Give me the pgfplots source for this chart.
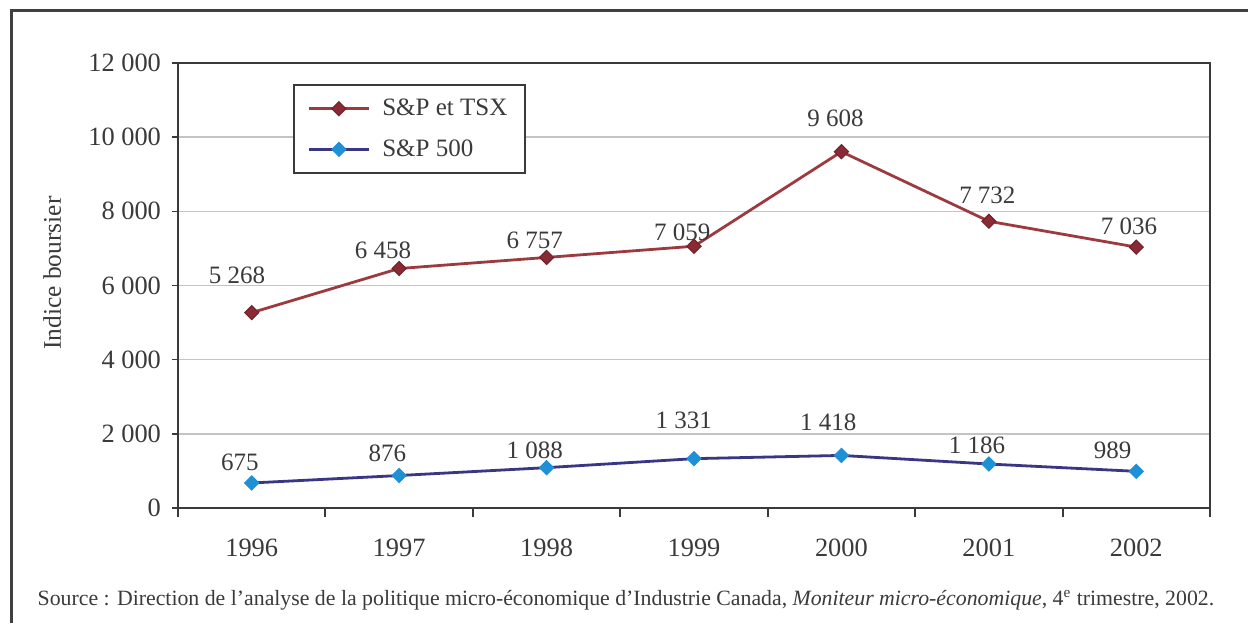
\documentclass[border=0pt]{standalone}
\usepackage{pgfplots}
\pgfplotsset{compat=1.18}
\usepackage{fontspec}
\setmainfont{Liberation Serif}
\definecolor{redl}{HTML}{9C3A40}
\definecolor{redm}{HTML}{8A2A35}
\definecolor{bluel}{HTML}{3A3585}
\definecolor{bluem}{HTML}{1E90D8}
\definecolor{txt}{HTML}{3A3A3A}
\definecolor{gridc}{HTML}{C4C4C4}
\begin{document}
\begin{tikzpicture}
\useasboundingbox (0,0) rectangle (624pt,311.5pt);
\draw[line width=1.5pt, draw=black!75] (5.5pt,0) -- (5.5pt,306pt) -- (624pt,306pt);
\begin{axis}[
  at={(89pt,57.5pt)}, anchor=south west,
  scale only axis, width=516pt, height=222.5pt,
  xmin=-0.5, xmax=6.5, ymin=0, ymax=12000,
  scaled y ticks=false,
  xtick={0,...,6}, xticklabels={1996,1997,1998,1999,2000,2001,2002},
  minor xtick={-0.5,0.5,...,6.5},
  ytick={0,2000,...,12000},
  yticklabels={0,2 000,4 000,6 000,8 000,10 000,12 000},
  xtick pos=bottom, ytick pos=left,
  tick align=outside,
  major tick length=3pt, minor tick length=4.5pt,
  x tick style={draw=none},
  minor x tick style={draw=txt, line width=1pt},
  y tick style={draw=txt, line width=0.8pt},
  ymajorgrids, grid style={draw=gridc, line width=0.8pt},
  axis line style={draw=txt, line width=1pt},
  tick label style={font=\fontsize{13.2}{15}\selectfont, text=txt},
  xticklabel style={yshift=-9pt},
  yticklabel style={xshift=-2pt},
  ylabel={Indice boursier},
  every axis y label/.style={at={(rel axis cs:-0.122,0.528)}, rotate=90, anchor=center, font=\fontsize{12.7}{15}\selectfont, text=txt},
  legend style={at={(rel axis cs:0.111,0.953)}, anchor=north west, draw=txt, line width=1pt, fill=white,
    font=\fontsize{12.5}{15}\selectfont, text=txt, inner xsep=7pt, inner ysep=5pt, row sep=6.5pt,
    /tikz/every odd column/.append style={column sep=4pt}},
  legend cell align=left,
  legend image code/.code={\draw[mark repeat=2,mark phase=2,#1] plot coordinates {(0pt,0pt) (15pt,0pt) (30pt,0pt)};},
]
\addplot[redl, line width=1.4pt, mark=square*, mark size=2.5pt, mark options={rotate=45, fill=redm, draw=redm!80!black, line width=0.5pt}]
  coordinates {(0,5268) (1,6458) (2,6757) (3,7059) (4,9608) (5,7732) (6,7036)};
\addlegendentry{S\&P et TSX}
\addplot[bluel, line width=1.4pt, mark=square*, mark size=2.5pt, mark options={rotate=45, fill=bluem, draw=bluem, line width=0.5pt}]
  coordinates {(0,675) (1,876) (2,1088) (3,1331) (4,1418) (5,1186) (6,989)};
\addlegendentry{S\&P 500}
\begin{scope}[every node/.style={font=\fontsize{12.5}{15}\selectfont, text=txt}]
\node at (axis cs:-0.10,6270) {5 268};
\node at (axis cs:0.89,6944) {6 458};
\node at (axis cs:1.92,7227) {6 757};
\node at (axis cs:2.92,7443) {7 059};
\node at (axis cs:3.96,10517) {9 608};
\node at (axis cs:4.99,8440) {7 732};
\node at (axis cs:5.95,7604) {7 036};
\node at (axis cs:-0.08,1240) {675};
\node at (axis cs:0.92,1483) {876};
\node at (axis cs:1.92,1564) {1 088};
\node at (axis cs:2.93,2373) {1 331};
\node at (axis cs:3.91,2319) {1 418};
\node at (axis cs:4.92,1699) {1 186};
\node at (axis cs:5.84,1564) {989};
\end{scope}
\end{axis}
\node[font=\fontsize{10.9}{12}\selectfont, text=txt] at (313pt,11.5pt) {Source : Direction de l’analyse de la politique micro-économique d’Industrie Canada, \textit{Moniteur micro-économique}, 4\textsuperscript{e} trimestre, 2002.};
\end{tikzpicture}
\end{document}
